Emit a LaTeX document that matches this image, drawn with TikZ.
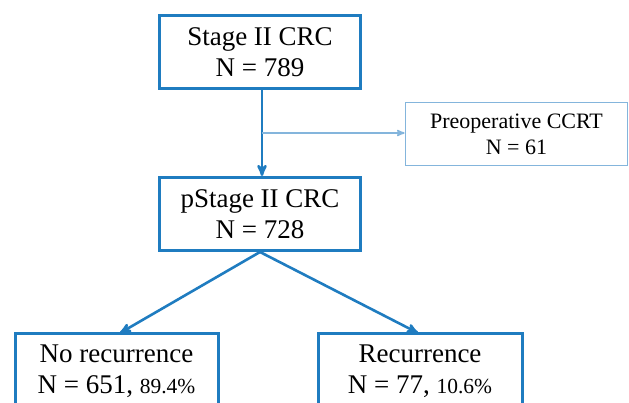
\documentclass[tikz,border=0pt]{standalone}
\usepackage{fontspec}
\setmainfont{Liberation Serif}
\usepackage{tikz}
\usetikzlibrary{arrows,shapes}
\usetikzlibrary{positioning}
\definecolor{boxblue}{RGB}{31,124,192}
\definecolor{lightblue}{RGB}{132,181,220}
\tikzset{
    >=stealth',
    stagebox/.style={draw=boxblue, line width=3pt, minimum width=201pt,
        minimum height=73pt, align=center, inner sep=2pt,
        font=\fontsize{27}{31}\selectfont},
    sidebox/.style={draw=lightblue, line width=1.8pt, minimum width=222pt,
        minimum height=63pt, align=center, inner sep=2pt,
        font=\fontsize{22}{26}\selectfont},
    flow/.style={->, draw=boxblue, line width=2.6pt},
    sideflow/.style={->, draw=lightblue, line width=1.6pt},
}
\newcommand{\pct}[1]{{\fontsize{21.5}{26}\selectfont #1}}

\begin{document}
\begin{tikzpicture}[x=1pt, y=-1pt]
\useasboundingbox (0,0) rectangle (629,403);
% boxes
\node[stagebox] (stage) at (260,52.5) {Stage II CRC\\N = 789};
\node[stagebox] (pstage) at (260,214) {pStage II CRC\\N = 728};
\node[sidebox] (preop) at (516.5,134) {Preoperative CCRT\\N = 61};
\node[stagebox, minimum width=203pt, minimum height=90pt,
      text depth=18pt] (norec) at (116.5,378) {No recurrence\\N = 651, \pct{89.4\%}};
\node[stagebox, minimum width=204pt, minimum height=90pt,
      text depth=18pt] (rec) at (420,378) {Recurrence\\N = 77, \pct{10.6\%}};
\coordinate (split) at (262,133);
% arrows
\draw[flow] (stage.south -| split) -- (pstage.north -| split);
\draw[sideflow] (split) -- (preop.west |- split);
\draw[flow] (pstage.south) -- (120,333);
\draw[flow] (pstage.south) -- (418,333);
\end{tikzpicture}
\end{document}
